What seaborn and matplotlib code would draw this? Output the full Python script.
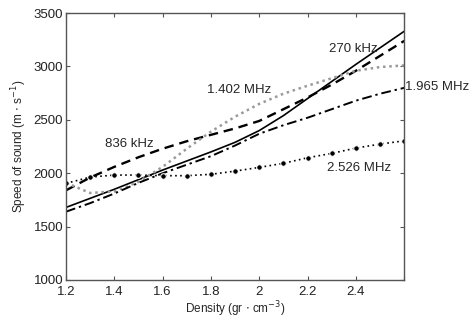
import numpy as np
import pandas as pd
import matplotlib
matplotlib.use("Agg")
import matplotlib.pyplot as plt
import seaborn as sns

# density axis values (gr/cm^3)
dens = [1.2, 1.3, 1.4, 1.5, 1.6, 1.7, 1.8, 1.9, 2.0, 2.1, 2.2, 2.3, 2.4, 2.5, 2.6]

# speed of sound per frequency (m/s)
v_270k = [1680, 1765, 1850, 1940, 2030, 2115, 2200, 2290, 2400, 2540, 2700, 2860, 3020, 3175, 3330]
v_836k = [1840, 1960, 2060, 2150, 2230, 2300, 2360, 2420, 2490, 2600, 2710, 2830, 2960, 3100, 3240]
v_1402k = [1910, 1815, 1830, 1920, 2060, 2230, 2390, 2530, 2650, 2745, 2820, 2890, 2960, 2995, 3010]
v_1965k = [1640, 1720, 1810, 1910, 2000, 2080, 2160, 2260, 2370, 2450, 2520, 2600, 2680, 2745, 2800]
v_2526k = [1905, 1964, 1983, 1983, 1977, 1977, 1990, 2020, 2055, 2093, 2145, 2186, 2236, 2273, 2304]

labels = ["270 kHz", "836 kHz", "1.402 MHz", "1.965 MHz", "2.526 MHz"]

df = pd.DataFrame({"density": dens * 5,
                   "speed": v_270k + v_836k + v_1402k + v_1965k + v_2526k,
                   "freq": sum([[l] * len(dens) for l in labels], [])})

sns.set_style("ticks")
plt.rcParams['font.family'] = ['Liberation Sans', 'DejaVu Sans']

fig = plt.figure(figsize=(4.75, 3.2), dpi=100)
ax = fig.add_axes([0.139, 0.125, 0.712, 0.834])

styles = {
    "270 kHz": dict(color="black", linestyle="-", lw=1.2),
    "836 kHz": dict(color="black", linestyle=(0, (4, 2.5)), lw=1.7),
    "1.402 MHz": dict(color="#999999", linestyle=(0, (1, 1.5)), lw=1.8),
    "1.965 MHz": dict(color="black", linestyle=(0, (5, 2, 1.2, 2)), lw=1.4),
    "2.526 MHz": dict(color="black", linestyle=(0, (1, 2)), lw=1.2,
                      marker="o", markersize=4),
}
for lab in labels:
    sub = df[df["freq"] == lab]
    sns.lineplot(data=sub, x="density", y="speed", ax=ax, **styles[lab])

ax.set_xlim(1.2, 2.6)
ax.set_ylim(1000, 3500)
ax.set_xticks([1.2, 1.4, 1.6, 1.8, 2.0, 2.2, 2.4, 2.6])
ax.set_xticklabels(["1.2", "1.4", "1.6", "1.8", "2", "2.2", "2.4", ""])
ax.set_yticks([1000, 1500, 2000, 2500, 3000, 3500])
ax.tick_params(direction="in", top=True, right=True, labelsize=9.5,
               length=3, color="#555555", labelcolor="#222222", pad=2)
ax.tick_params(axis="x", pad=4)
for s in ax.spines.values():
    s.set_color("#555555")
    s.set_linewidth(1.0)

ax.set_xlabel("Density (gr $\\cdot$ cm$^{-3}$)", fontsize=8.5, labelpad=1)
ax.set_ylabel("Speed of sound (m $\\cdot$ s$^{-1}$)", fontsize=8.5, labelpad=3)

fs = 9.5
ax.text(2.29, 3160, "270 kHz", fontsize=fs, ha="left", va="center")
ax.text(1.36, 2270, "836 kHz", fontsize=fs, ha="left", va="center")
ax.text(1.784, 2780, "1.402 MHz", fontsize=fs, ha="left", va="center")
ax.text(2.603, 2805, "1.965 MHz", fontsize=fs, ha="left", va="center", clip_on=False)
ax.text(2.28, 2050, "2.526 MHz", fontsize=fs, ha="left", va="center")

fig.savefig("out.png", dpi=100)
